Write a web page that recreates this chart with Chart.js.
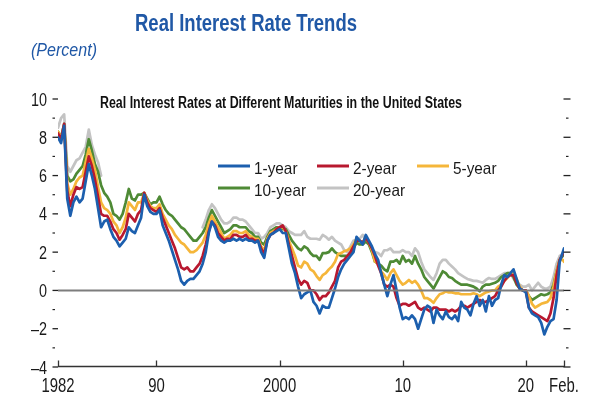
<!DOCTYPE html>
<html>
<head>
<meta charset="utf-8">
<script src="https://cdn.jsdelivr.net/npm/chart.js@4.4.1/dist/chart.umd.min.js"></script>
<style>
  html, body { margin: 0; padding: 0; background: #ffffff; }
  #wrap { width: 600px; height: 400px; }
</style>
</head>
<body>
<div id="wrap"><canvas id="c" width="600" height="400"></canvas></div>
<script>
// ---------------- DATA (quarterly, 1982Q1 ... 2023Q1, then Feb. 2023) ----------------
const startYear = 1982;
const quarterCount = 165;        // 1982.00 ... 2023.00
const lastDate = 2023.1;         // Feb. 2023

const seriesNames = ['1-year', '2-year', '5-year', '10-year', '20-year'];

const oneYear = [
  8.0, 7.7, 8.6, 4.8,   3.9, 4.6, 4.9, 4.6,   4.8, 5.7, 6.6, 6.0,   5.3, 4.3, 3.3, 3.6,
  3.7, 3.2, 2.8, 2.6,   2.3, 2.5, 2.7, 3.3,   3.1, 3.0, 3.4, 3.8,   5.0, 4.4, 4.1, 4.0,
  4.0, 4.2, 3.4, 3.0,   2.6, 2.1, 1.6, 1.1,   0.5, 0.3, 0.5, 0.6,   0.6, 0.8, 1.0, 1.4,
  2.0, 3.0, 3.6, 3.3,   2.8, 2.6, 2.5, 2.6,   2.6, 2.7, 2.6, 2.7,   2.6, 2.7, 2.6, 2.6,
  2.5, 2.6, 2.0, 1.7,   2.6, 2.9, 3.0, 3.1,   3.2, 3.0, 3.0, 2.2,   1.4, 0.9, 0.2, -0.4,
  -0.2, -0.1, 0.0, -0.6, -0.8, -1.2, -0.8, -0.9, -0.9, -0.4, 0.1, 0.7, 1.1, 1.4, 1.6, 1.8,
  2.0, 2.8, 2.6, 2.4,   2.9, 2.6, 2.3, 1.9,   1.6, 0.9, 0.3, -0.3,  0.3, 0.8, 0.0, -0.9,
  -1.5, -1.4, -1.5, -1.3, -1.5, -2.0, -1.5, -1.0, -0.8, -0.9, -1.7, -1.0, -1.3, -1.5, -1.1, -1.4,
  -1.5, -1.3, -1.6, -0.6, -0.9, -1.0, -1.3, -0.7, -0.3, -0.8, -0.5, -1.1, -0.3, -0.8, -0.5, -0.4,
  0.3, 0.8, 0.7, 0.9,   1.1, 0.6, 0.1, 0.0,   -0.1, -0.9, -1.2, -1.3, -1.4, -1.7, -2.3, -1.9,
  -1.6, -1.5, -0.5, 1.5, 2.0, 2.2
];

const twoYear = [
  8.2, 7.9, 8.7, 5.2,   4.4, 5.0, 5.4, 5.3,   5.4, 6.2, 7.0, 6.5,   5.8, 4.9, 4.0, 3.9,
  3.9, 3.6, 3.2, 3.0,   2.65, 2.9, 3.2, 4.0,  3.8, 3.6, 4.0, 4.2,   5.1, 4.6, 4.3, 4.2,
  4.1, 4.3, 3.8, 3.4,   3.0, 2.6, 2.2, 1.7,   1.2, 1.1, 1.2, 1.0,   1.0, 1.2, 1.4, 1.8,
  2.4, 3.1, 3.6, 3.4,   3.0, 2.8, 2.6, 2.7,   2.7, 2.9, 2.9, 2.8,   2.8, 2.9, 2.7, 2.7,
  2.6, 2.6, 2.2, 1.9,   2.6, 2.9, 3.0, 3.2,   3.3, 3.4, 3.1, 2.4,   1.8, 1.2, 0.6, 0.3,
  0.5, 0.4, 0.0, 0.0,   -0.2, -0.5, -0.3, -0.3, -0.1, 0.2, 0.5, 1.2, 1.5, 1.6, 1.8, 2.0,
  2.3, 2.6, 2.6, 2.5,   2.75, 2.5, 2.2, 1.8,  1.3, 0.9, 0.3, 0.2,   0.3, 0.2, -0.4, -0.8,
  -0.7, -0.7, -0.8, -0.7, -0.6, -0.9, -1.0, -0.9, -1.0, -1.1, -0.9, -0.9, -1.0, -1.0, -1.0, -1.1,
  -1.0, -1.1, -1.0, -0.8, -0.8, -0.9, -0.8, -0.7, -0.6, -0.5, -0.6, -0.6, -0.5, -0.4, -0.3, 0.0,
  0.2, 0.5, 0.7, 0.8,   0.8, 0.4, 0.1, 0.0,   0.0, -0.9, -1.1, -1.2, -1.3, -1.4, -1.5, -1.6,
  -1.2, -0.4, 0.8, 1.6, 1.9, 2.0
];

const fiveYear = [
  8.3, 8.0, 8.6, 5.6,   5.0, 5.3, 5.7, 5.9,   6.0, 6.7, 7.4, 6.9,   6.3, 5.4, 4.6, 4.3,
  4.2, 4.0, 3.6, 3.4,   3.0, 3.3, 3.8, 4.6,   4.4, 4.2, 4.6, 4.6,   5.1, 4.7, 4.4, 4.3,
  4.3, 4.5, 4.0, 3.7,   3.4, 3.2, 2.9, 2.7,   2.5, 2.4, 2.2, 2.0,   2.0, 2.1, 2.3, 2.5,
  2.9, 3.5, 3.9, 3.6,   3.3, 3.0, 2.7, 2.8,   2.9, 3.1, 3.1, 3.0,   3.0, 3.1, 2.9, 2.8,
  2.7, 2.7, 2.3, 2.1,   2.7, 3.0, 3.1, 3.2,   3.3, 3.3, 3.1, 2.6,   2.2, 1.8, 1.3, 1.2,
  1.5, 1.4, 1.1, 1.0,   0.75, 0.55, 0.8, 0.9, 1.1, 1.25, 1.5, 1.9, 1.95, 2.05, 2.1, 2.2,
  2.4, 2.7, 2.6, 2.5,   2.75, 2.5, 2.1, 1.5,  1.4, 1.0, 0.8, 0.55,  0.9, 1.1, 0.8, 0.5,
  0.3, 0.4, 0.55, 0.4,  0.5, 0.3, 0.0, -0.4,  -0.4, -0.5, -0.65, -0.4, -0.2, -0.15, -0.05, -0.1,
  -0.1, -0.15, -0.15, -0.2, -0.2, -0.2, -0.2, -0.15, -0.2, -0.3, -0.2, -0.1, -0.05, 0.0, 0.0, 0.2,
  0.3, 0.5, 0.65, 0.9,  0.9, 0.6, 0.2, 0.0,   0.0, -0.3, -0.7, -0.9, -0.8, -0.7, -0.65, -0.6,
  -0.4, 0.2, 1.0, 1.6,  1.6, 1.5
];

const tenYear = [
  8.3, 8.0, 8.7, 6.0,   5.7, 5.8, 6.1, 6.3,   6.5, 7.1, 7.9, 7.3,   6.6, 6.2, 5.5, 5.1,
  4.9, 4.6, 4.0, 3.9,   3.7, 4.0, 4.6, 5.3,   4.8, 4.7, 5.0, 5.0,   5.1, 4.8, 4.5, 4.6,
  4.6, 4.9, 4.5, 4.2,   4.0, 3.9, 3.7, 3.5,   3.3, 3.2, 3.0, 2.8,   2.6, 2.6, 2.8, 3.0,
  3.3, 3.8, 4.2, 3.9,   3.6, 3.3, 3.0, 3.1,   3.2, 3.4, 3.4, 3.3,   3.3, 3.3, 3.1, 3.0,
  2.8, 2.8, 2.5, 2.4,   2.8, 3.1, 3.2, 3.3,   3.3, 3.2, 3.2, 2.9,   2.6, 2.4, 2.2, 2.1,
  2.3, 2.2, 1.95, 1.8,  1.8, 1.6, 1.95, 1.95, 2.0, 2.2, 2.0, 1.9,   1.8, 1.8, 1.8, 1.9,
  2.2, 2.5, 2.4, 2.4,   2.55, 2.4, 2.0, 1.5,  1.4, 1.3, 1.1, 1.0,   1.5, 1.5, 1.6, 1.4,
  1.8, 1.5, 1.6, 1.4,   1.8, 1.4, 1.1, 0.7,   0.5, 0.3, 0.1, 0.4,   0.7, 1.0, 0.9, 0.7,
  0.65, 0.5, 0.4, 0.3,  0.3, 0.3, 0.25, 0.2,  0.1, -0.05, 0.2, 0.3,  0.3, 0.35, 0.4, 0.5,
  0.7, 0.8, 0.9, 0.9,   0.7, 0.3, 0.1, 0.0,   0.0, -0.3, -0.5, -0.4, -0.3, -0.2, -0.25, -0.2,
  -0.1, 0.3, 1.0, 1.6,  1.8, 1.9
];

const twentyYear = [
  8.5, 9.0, 9.2, 6.5,   6.2, 6.5, 6.8, 6.9,   7.2, 7.5, 8.4, 7.6,   7.1, 6.7, 6.0, null,
  null, null, null, null, null, null, null, null, null, null, null, null, null, null, null, null,
  null, null, null, null, null, null, null, null, null, null, null, null, null, null, null, 3.3,
  3.7, 4.2, 4.5, 4.3,   4.0, 3.7, 3.5, 3.5,   3.6, 3.8, 3.8, 3.7,   3.7, 3.6, 3.4, 3.2,
  3.0, 3.0, 2.7, 2.8,   3.0, 3.3, 3.4, 3.5,   3.5, 3.4, 3.3, 3.1,   3.0, 2.9, 2.9, 2.9,
  3.1, 2.8, 2.7, 2.7,   2.7, 2.65, 2.9, 2.8,  2.65, 2.8, 2.6, 2.5,  2.4, 2.1, 2.0, 2.3,
  2.6, 2.6, 2.7, 2.9,   2.6, 2.5, 2.1, 2.0,   1.95, 1.8, 2.1, 2.1,  2.2, 2.0, 2.0, 2.0,
  2.1, 2.0, 2.0, 1.8,   2.2, 2.0, 1.5, 1.1,   0.9, 0.7, 0.55, 0.9,  1.4, 1.6, 1.6, 1.4,
  1.25, 1.1, 0.9, 0.8,  0.7, 0.6, 0.55, 0.5,  0.5, 0.45, 0.4, 0.55, 0.65, 0.6, 0.6, 0.7,
  0.8, 0.9, 0.9, 0.9,   0.6, 0.4, 0.3, 0.2,   0.2, 0.3, 0.0, 0.2,   0.4, 0.2, 0.1, 0.1,
  0.2, 0.7, 1.4, 1.8,   1.9, 1.95
];

const yMajorTicks = [10, 8, 6, 4, 2, 0, -2, -4];
const yMinorTicks = [9, 7, 5, 3, 1, -1, -3];
const yTickLabels = ['10', '8', '6', '4', '2', '0', '\u20132', '\u20134'];
const xTicks = [1982, 1990, 2000, 2010, 2020, 2023.1];
const xTickLabels = ['1982', '90', '2000', '10', '20', 'Feb.'];

const titleText = 'Real Interest Rate Trends';
const unitText = '(Percent)';
const subtitleText = 'Real Interest Rates at Different Maturities in the United States';

// ---------------- BUILD ----------------
const dates = [];
for (let i = 0; i < quarterCount; i++) dates.push(startYear + i / 4);
dates.push(lastDate);

const colors = ['#1c5fae', '#b8182f', '#f5b63a', '#4e8a35', '#c3c3c3'];
const seriesValues = [oneYear, twoYear, fiveYear, tenYear, twentyYear];

const datasets = seriesNames.map((name, k) => ({
  label: name,
  data: seriesValues[k].map((v, i) => ({ x: dates[i], y: v })),
  borderColor: colors[k],
  backgroundColor: colors[k],
  borderWidth: 2.7,
  pointRadius: 0,
  tension: 0,
  spanGaps: false,
  borderJoinStyle: 'round',
  borderCapStyle: 'round'
}));

const FONT = "'Liberation Sans', Arial, Helvetica, sans-serif";

function fitText(ctx, text, x, y, w, font, color, align) {
  ctx.save();
  ctx.font = font;
  ctx.fillStyle = color;
  ctx.textBaseline = 'alphabetic';
  ctx.textAlign = 'left';
  const m = ctx.measureText(text).width;
  const s = w / m;
  let x0 = x;
  if (align === 'right') x0 = x - w;
  else if (align === 'center') x0 = x - w / 2;
  ctx.translate(x0, y);
  ctx.scale(s, 1);
  ctx.fillText(text, 0, 0);
  ctx.restore();
}

function scaledText(ctx, text, x, y, sx, font, color, align) {
  ctx.save();
  ctx.font = font;
  const w = ctx.measureText(text).width * sx;
  ctx.restore();
  fitText(ctx, text, x, y, w, font, color, align);
}

const decor = {
  id: 'decor',
  afterDatasetsDraw(chart) {
    const ctx = chart.ctx;
    const xs = chart.scales.x, ys = chart.scales.y;
    const left = chart.chartArea.left, right = chart.chartArea.right;
    const bottom = chart.chartArea.bottom;

    // zero line
    ctx.save();
    ctx.strokeStyle = '#7d7d7d';
    ctx.lineWidth = 2;
    const y0 = ys.getPixelForValue(0);
    ctx.beginPath(); ctx.moveTo(left, y0); ctx.lineTo(right, y0); ctx.stroke();

    // x axis line
    ctx.strokeStyle = '#333333';
    ctx.lineWidth = 1.5;
    ctx.beginPath(); ctx.moveTo(left, bottom - 0.5); ctx.lineTo(right, bottom - 0.5); ctx.stroke();
    ctx.lineWidth = 1.3;
    xTicks.forEach(t => {
      const px = Math.round(xs.getPixelForValue(t)) + 0.5;
      ctx.beginPath(); ctx.moveTo(px, bottom); ctx.lineTo(px, bottom - 6.5); ctx.stroke();
    });

    // y ticks both sides
    ctx.strokeStyle = '#222222';
    yMajorTicks.forEach(t => {
      const py = ys.getPixelForValue(t);
      ctx.lineWidth = 1.3;
      ctx.beginPath(); ctx.moveTo(52.5, py); ctx.lineTo(58, py); ctx.stroke();
      ctx.beginPath(); ctx.moveTo(563.5, py); ctx.lineTo(570.5, py); ctx.stroke();
    });
    yMinorTicks.forEach(t => {
      const py = ys.getPixelForValue(t);
      ctx.lineWidth = 1.2;
      ctx.beginPath(); ctx.moveTo(52.5, py); ctx.lineTo(55, py); ctx.stroke();
      ctx.beginPath(); ctx.moveTo(566, py); ctx.lineTo(568.5, py); ctx.stroke();
    });
    ctx.restore();

    // y labels
    yMajorTicks.forEach((t, i) => {
      const py = ys.getPixelForValue(t);
      scaledText(ctx, yTickLabels[i], 47, py + 6.5, 0.8, '18px ' + FONT, '#1a1a1a', 'right');
    });
    // x labels
    xTicks.forEach((t, i) => {
      const px = xs.getPixelForValue(t);
      scaledText(ctx, xTickLabels[i], px, 392, 0.71, '21px ' + FONT, '#1a1a1a', 'center');
    });

    // titles
    fitText(ctx, titleText, 135, 31, 222, 'bold 23px ' + FONT, '#2058a6', 'left');
    fitText(ctx, unitText, 31, 55.5, 66, 'italic 18.5px ' + FONT, '#2058a6', 'left');
    fitText(ctx, subtitleText, 100, 108.3, 362, 'bold 16px ' + FONT, '#111111', 'left');

    // legend
    const cols = [218, 317, 417];
    const rows = [166, 188];
    const order = [[0, 0, 0], [1, 0, 1], [2, 0, 2], [3, 1, 0], [4, 1, 1]];
    order.forEach(([k, r, c]) => {
      const lx = cols[c], ly = rows[r];
      ctx.save();
      ctx.strokeStyle = colors[k];
      ctx.lineWidth = 3;
      ctx.beginPath(); ctx.moveTo(lx, ly); ctx.lineTo(lx + 32, ly); ctx.stroke();
      ctx.restore();
      scaledText(ctx, seriesNames[k], lx + 36, ly + 7.5, 0.93, '16.5px ' + FONT, '#1a1a1a', 'left');
    });
  }
};

new Chart(document.getElementById('c'), {
  type: 'line',
  data: { datasets },
  options: {
    responsive: false,
    animation: false,
    devicePixelRatio: 1,
    layout: { padding: { left: 58, right: 36, top: 99, bottom: 33 } },
    plugins: { legend: { display: false }, tooltip: { enabled: false }, title: { display: false } },
    scales: {
      x: { type: 'linear', min: 1982, max: 2023.1, display: false },
      y: { type: 'linear', min: -4, max: 10, display: false }
    },
    elements: { line: { fill: false } }
  },
  plugins: [decor]
});
</script>
</body>
</html>
